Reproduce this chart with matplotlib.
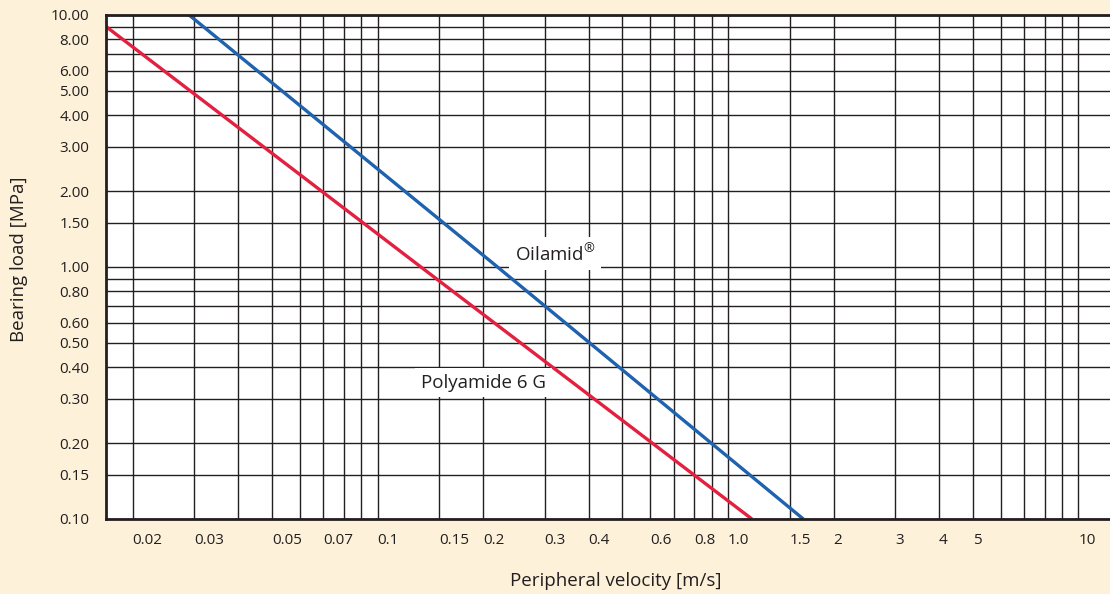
import matplotlib.pyplot as plt
from matplotlib.ticker import NullFormatter

plt.rcParams["font.family"] = ["Open Sans", "DejaVu Sans"]
plt.rcParams["mathtext.fontset"] = "custom"
plt.rcParams["mathtext.rm"] = "Open Sans"

# readings: peripheral velocity [m/s] vs bearing load [MPa]
oilamid_v = [0.029, 0.22, 1.64]
oilamid_p = [10.0, 1.0, 0.1]
pa6g_v = [0.0168, 0.133, 1.17]
pa6g_p = [9.0, 1.0, 0.1]

x_labelled = [0.02, 0.03, 0.05, 0.07, 0.1, 0.15, 0.2, 0.3, 0.4, 0.6, 0.8, 1.0, 1.5, 2, 3, 4, 5, 10]
x_labels = ["0.02", "0.03", "0.05", "0.07", "0.1", "0.15", "0.2", "0.3", "0.4", "0.6", "0.8", "1.0",
            "1.5", "2", "3", "4", "5", "10"]
x_extra = [0.04, 0.06, 0.08, 0.09, 0.5, 0.7, 0.9, 6, 7, 8, 9]

y_labelled = [0.1, 0.15, 0.2, 0.3, 0.4, 0.5, 0.6, 0.8, 1.0, 1.5, 2, 3, 4, 5, 6, 8, 10]
y_labels = ["0.10", "0.15", "0.20", "0.30", "0.40", "0.50", "0.60", "0.80", "1.00", "1.50",
            "2.00", "3.00", "4.00", "5.00", "6.00", "8.00", "10.00"]
y_extra = [0.7, 0.9, 7, 9]

cream = "#fdf1d9"
ink = "#231f20"

fig = plt.figure(figsize=(11.1, 5.94), dpi=100, facecolor=cream)
ax = fig.add_axes([106 / 1110, 1 - 519 / 594, 1 - 106 / 1110, 504 / 594])
ax.set_facecolor("white")
ax.set_xscale("log")
ax.set_yscale("log")
ax.set_xlim(0.0168, 12.3)
ax.set_ylim(0.1, 10)

ax.set_xticks(x_labelled, x_labels)
ax.set_xticks(x_extra, minor=True)
ax.set_yticks(y_labelled, y_labels)
ax.set_yticks(y_extra, minor=True)
ax.xaxis.set_minor_formatter(NullFormatter())
ax.yaxis.set_minor_formatter(NullFormatter())
ax.tick_params(which="both", length=0, labelsize=11, colors=ink)
ax.tick_params(axis="x", pad=10)
ax.tick_params(axis="y", pad=12)
for label in ax.get_xticklabels():
    label.set_horizontalalignment("left")

ax.grid(which="both", color=ink, linewidth=1.0)
ax.set_axisbelow(True)
for side in ("left", "bottom", "top"):
    ax.spines[side].set_linewidth(2.0)
    ax.spines[side].set_color(ink)
ax.spines["right"].set_visible(False)

ax.plot(pa6g_v, pa6g_p, color="#e3203f", linewidth=2.4, solid_capstyle="butt")
ax.plot(oilamid_v, oilamid_p, color="#1f62ae", linewidth=2.4, solid_capstyle="butt")

box = dict(facecolor="white", edgecolor="none", pad=4)
ax.text(0.246, 1.13, "Oilamid$^{®}$", fontsize=13.5, color=ink, va="center", bbox=box)
ax.text(0.133, 0.347, "Polyamide 6 G", fontsize=13.5, color=ink, va="center", bbox=box)

fig.text(616 / 1110, 1 - 581 / 594, "Peripheral velocity [m/s]", fontsize=13.5, color=ink,
         ha="center", va="center")
fig.text(19 / 1110, 1 - 259 / 594, "Bearing load [MPa]", fontsize=13.5, color=ink,
         ha="center", va="center", rotation=90)

fig.savefig("out.png", dpi=100, facecolor=cream)
